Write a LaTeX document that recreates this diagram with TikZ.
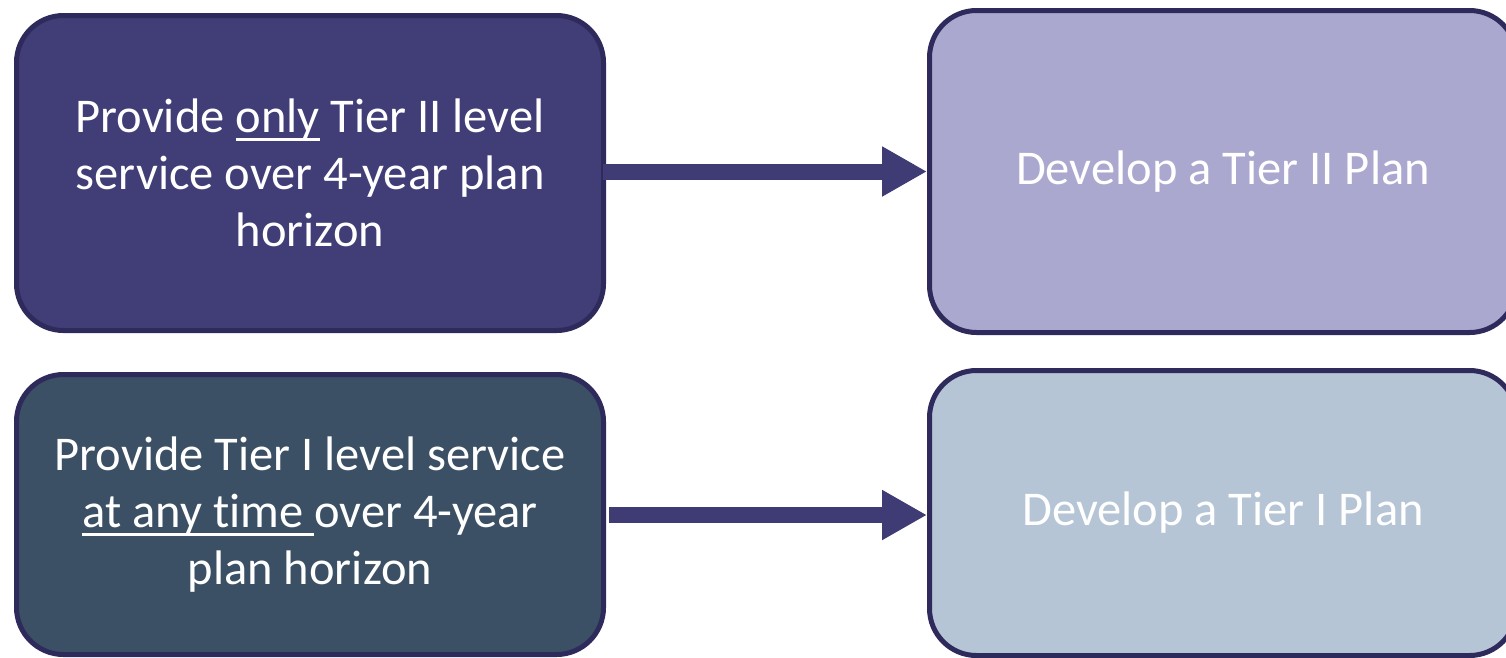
\documentclass[tikz,border=0pt]{standalone}
\usepackage{fontspec}
\setmainfont[Ligatures=NoCommon]{Carlito}
\usetikzlibrary{arrows.meta}

\definecolor{edgeline}{HTML}{2E2B5C}
\definecolor{planbluedark}{HTML}{413E77}
\definecolor{planlilac}{HTML}{ABA8D0}
\definecolor{planslate}{HTML}{3B5064}
\definecolor{planmist}{HTML}{B5C5D5}
\definecolor{arrowfill}{HTML}{3E3B75}

% underline drawn through the descenders, as in the slide
\newcommand\ulbar[1]{\leavevmode\setbox0\hbox{#1}\rlap{\rule[-8.5pt]{\wd0}{3.2pt}}\box0\relax}

\tikzset{
  card/.style={rectangle, rounded corners=47pt, draw=edgeline, line width=5pt,
    minimum width=587pt, text=white, align=center, inner sep=0pt,
    font=\fontsize{48.5}{57}\selectfont},
  flowarrow/.style={draw=arrowfill, line width=16pt,
    -{Triangle[length=45pt,width=47pt]}, fill=arrowfill},
}

\begin{document}
\begin{tikzpicture}[x=1pt,y=-1pt]
  \useasboundingbox (0,0) rectangle (1506,657);

  \node[card, fill=planbluedark, minimum height=315pt] (tl) at (310,173)
    {Provide \ulbar{only} Tier II level\\service over 4-year plan\\horizon};
  \node[card, fill=planlilac, minimum height=322pt] (tr) at (1223,171.5)
    {Develop a Tier II Plan};
  \node[card, fill=planslate, minimum height=280pt] (bl) at (310,514.5)
    {Provide Tier I level service\\\ulbar{at any time }over 4-year\\plan horizon};
  \node[card, fill=planmist, minimum height=285pt] (br) at (1223,513)
    {Develop a Tier I Plan};

  \draw[flowarrow, shorten <=-3pt] (tl.east |- tr.west) -- (tr.west);
  \draw[flowarrow, shorten <=3pt] ([yshift=-2pt]bl.east |- br.west) -- ([yshift=-2pt]br.west);
\end{tikzpicture}
\end{document}
